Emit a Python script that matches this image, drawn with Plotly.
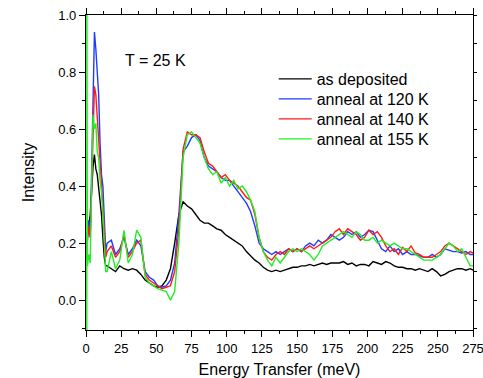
import plotly.graph_objects as go

# Energy grid (meV)
ENERGY = list(range(0, 15)) + list(range(15, 274, 3)) + [275]

AS_DEPOSITED = [0.18, 0.22, 0.26, 0.30, 0.38, 0.47, 0.51, 0.46, 0.44, 0.40, 0.34, 0.30, 0.22, 0.15, 0.12,
    0.12, 0.11, 0.10, 0.12, 0.11, 0.105, 0.11, 0.105, 0.09, 0.07, 0.06, 0.05, 0.045, 0.05, 0.07, 0.11,
    0.20, 0.30, 0.345, 0.33, 0.32, 0.30, 0.28, 0.27, 0.27, 0.26, 0.25, 0.245, 0.23, 0.22, 0.21, 0.20,
    0.19, 0.17, 0.155, 0.14, 0.13, 0.115, 0.105, 0.10, 0.105, 0.10, 0.105, 0.11, 0.115, 0.115, 0.12,
    0.12, 0.125, 0.12, 0.125, 0.13, 0.125, 0.13, 0.13, 0.13, 0.135, 0.125, 0.13, 0.12, 0.125, 0.125,
    0.12, 0.135, 0.13, 0.125, 0.135, 0.13, 0.12, 0.115, 0.115, 0.11, 0.11, 0.105, 0.11, 0.105, 0.10,
    0.11, 0.10, 0.085, 0.09, 0.10, 0.105, 0.11, 0.11, 0.105, 0.11, 0.105]

ANNEAL_120 = [0.14, 0.24, 0.28, 0.22, 0.45, 0.70, 0.94, 0.88, 0.78, 0.72, 0.55, 0.44, 0.40, 0.28, 0.17,
    0.20, 0.21, 0.16, 0.18, 0.22, 0.16, 0.18, 0.21, 0.19, 0.10, 0.08, 0.07, 0.05, 0.045, 0.05, 0.07,
    0.13, 0.30, 0.52, 0.54, 0.57, 0.58, 0.56, 0.50, 0.47, 0.46, 0.45, 0.43, 0.42, 0.42, 0.40, 0.38,
    0.36, 0.34, 0.31, 0.26, 0.20, 0.18, 0.17, 0.16, 0.17, 0.16, 0.17, 0.18, 0.17, 0.18, 0.17, 0.19,
    0.20, 0.19, 0.21, 0.20, 0.21, 0.23, 0.22, 0.21, 0.22, 0.24, 0.23, 0.24, 0.22, 0.23, 0.245, 0.24,
    0.21, 0.18, 0.17, 0.19, 0.17, 0.18, 0.16, 0.17, 0.16, 0.16, 0.155, 0.15, 0.15, 0.16, 0.15, 0.16,
    0.18, 0.175, 0.17, 0.17, 0.165, 0.17, 0.16, 0.16]

ANNEAL_140 = [0.15, 0.20, 0.26, 0.22, 0.42, 0.62, 0.75, 0.72, 0.64, 0.60, 0.48, 0.40, 0.36, 0.25, 0.15,
    0.17, 0.19, 0.15, 0.17, 0.23, 0.15, 0.17, 0.20, 0.21, 0.09, 0.07, 0.06, 0.05, 0.04, 0.045, 0.05,
    0.10, 0.25, 0.53, 0.59, 0.58, 0.58, 0.57, 0.52, 0.48, 0.47, 0.45, 0.43, 0.44, 0.42, 0.41, 0.40,
    0.38, 0.36, 0.35, 0.30, 0.22, 0.17, 0.15, 0.14, 0.16, 0.17, 0.16, 0.18, 0.17, 0.18, 0.17, 0.18,
    0.19, 0.18, 0.19, 0.20, 0.21, 0.22, 0.24, 0.25, 0.23, 0.25, 0.24, 0.23, 0.21, 0.22, 0.245, 0.23,
    0.24, 0.22, 0.19, 0.17, 0.18, 0.16, 0.185, 0.17, 0.19, 0.165, 0.16, 0.15, 0.15, 0.15, 0.16, 0.17,
    0.19, 0.20, 0.19, 0.18, 0.17, 0.16, 0.17, 0.165]

# green curve starts with a spike that runs off the plot at the origin
ANNEAL_155_E = [0.6, 0.6] + ENERGY[1:]
ANNEAL_155 = [-0.2, 1.2, 0.12, 0.16, 0.13, 0.40, 0.65, 0.60, 0.62, 0.52, 0.50, 0.42, 0.38, 0.30, 0.18, 0.10,
    0.10, 0.17, 0.11, 0.14, 0.245, 0.13, 0.16, 0.245, 0.22, 0.08, 0.06, 0.05, 0.04, 0.035, 0.03, 0.0,
    0.03, 0.20, 0.50, 0.58, 0.59, 0.57, 0.55, 0.50, 0.46, 0.44, 0.45, 0.41, 0.43, 0.40, 0.42, 0.39,
    0.40, 0.38, 0.35, 0.31, 0.22, 0.17, 0.14, 0.12, 0.15, 0.13, 0.15, 0.17, 0.18, 0.17, 0.18, 0.17,
    0.16, 0.14, 0.16, 0.19, 0.20, 0.21, 0.22, 0.23, 0.24, 0.23, 0.22, 0.24, 0.23, 0.21, 0.21, 0.22,
    0.20, 0.21, 0.20, 0.19, 0.20, 0.19, 0.18, 0.18, 0.17, 0.16, 0.15, 0.14, 0.14, 0.14, 0.15, 0.16,
    0.18, 0.20, 0.19, 0.17, 0.18, 0.15, 0.12, 0.12]

X_TICKS = list(range(0, 276, 25))
Y_TICKS = [0.0, 0.2, 0.4, 0.6, 0.8, 1.0]
Y_FRAME_TICKS = [-0.1, 0.0, 0.1, 0.2, 0.3, 0.4, 0.5, 0.6, 0.7, 0.8, 0.9, 1.0]
X_RANGE = [0, 275]
Y_RANGE = [-0.105, 1.0]

FONT = "Liberation Sans, Arial, sans-serif"

fig = go.Figure()
series = [
    ("as deposited", ENERGY, AS_DEPOSITED, "#000000", "legend", "x", "y"),
    ("anneal at 120 K", ENERGY, ANNEAL_120, "#1f3bff", "legend2", "x", "y"),
    ("anneal at 140 K", ENERGY, ANNEAL_140, "#ff1a1a", "legend3", "x", "y"),
    # last curve is drawn on the identical top/right frame axes so that those get drawn with ticks
    ("anneal at 155 K", ANNEAL_155_E, ANNEAL_155, "#22ee22", "legend4", "x2", "y2"),
]
for name, xs, ys, col, leg, xa, ya in series:
    fig.add_trace(go.Scatter(x=xs, y=ys, mode="lines", name=name, legend=leg,
                             xaxis=xa, yaxis=ya, line=dict(color=col, width=1.4)))

fig.add_annotation(x=26, y=0.84, xref="x", yref="y", text="T = 25 K", showarrow=False,
                   xanchor="left", yanchor="middle", font=dict(size=16, color="black", family=FONT))

axis_common = dict(showgrid=False, zeroline=False, showline=True, linecolor="black", linewidth=1.2,
                   ticks="outside", ticklen=6, tickwidth=1.2, tickcolor="black", automargin=False,
                   ticklabeloverflow="allow",
                   tickfont=dict(size=13, color="black", family=FONT))

fig.update_layout(
    xaxis=dict(range=X_RANGE, tickvals=X_TICKS,
               minor=dict(dtick=12.5, ticks="outside", ticklen=3, tickcolor="black", tickwidth=1.2),
               title=dict(text="Energy Transfer (meV)", font=dict(size=16, color="black", family=FONT),
                          standoff=10),
               **axis_common),
    yaxis=dict(range=Y_RANGE, tickvals=Y_TICKS, tickformat=".1f",
               minor=dict(tickvals=Y_FRAME_TICKS, ticks="outside", ticklen=3, tickcolor="black", tickwidth=1.2),
               title=dict(text="Intensity", font=dict(size=16, color="black", family=FONT),
                          standoff=19),
               **axis_common),
    xaxis2=dict(range=X_RANGE, overlaying="x", side="top", anchor="y2", tickvals=X_TICKS,
                showticklabels=False, showgrid=False, zeroline=False, showline=True, automargin=False,
                linecolor="black", linewidth=1.2, ticks="outside", ticklen=6, tickwidth=1.2, tickcolor="black",
                minor=dict(dtick=12.5, ticks="outside", ticklen=3, tickcolor="black", tickwidth=1.2)),
    yaxis2=dict(range=Y_RANGE, overlaying="y", side="right", anchor="x2", tickvals=Y_FRAME_TICKS,
                showticklabels=False, showgrid=False, zeroline=False, showline=True, automargin=False,
                linecolor="black", linewidth=1.2, ticks="outside", ticklen=3, tickwidth=1.2, tickcolor="black"),
    width=483, height=378,
    margin=dict(l=86, r=10, t=15, b=48),
    paper_bgcolor="white", plot_bgcolor="white",
    showlegend=True,
    font=dict(family=FONT, color="black"),
)

leg_common = dict(x=0.485, xanchor="left", yanchor="middle", bgcolor="rgba(0,0,0,0)",
                  font=dict(size=16, color="black", family=FONT), itemwidth=33)
for key, ypix in [("legend", 79), ("legend2", 99), ("legend3", 119), ("legend4", 139)]:
    fig.update_layout({key: dict(y=(330 - ypix) / 315, **leg_common)})

fig.write_html("out.html")
